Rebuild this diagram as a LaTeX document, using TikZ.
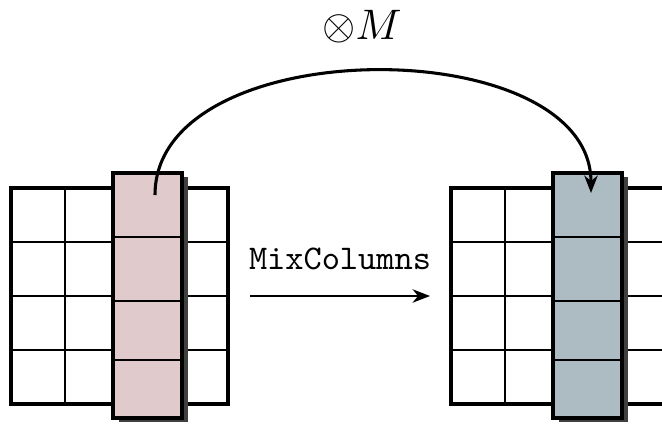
\documentclass[tikz,border=0pt]{standalone}
\usetikzlibrary{arrows.meta}
\definecolor{colpink}{RGB}{224,202,203}
\definecolor{colblue}{RGB}{173,187,195}
\definecolor{shadowgray}{RGB}{64,64,64}
\begin{document}
\begin{tikzpicture}[x=0.75pt,y=-0.75pt,
  gridouter/.style={line width=3.3pt},
  gridinner/.style={line width=1.5pt},
  colbox/.style={line width=2.4pt},
  colsep/.style={line width=1.6pt},
  dropshadow/.style={fill=shadowgray,draw=none},
  conn/.style={line width=2.3pt,-{Stealth[length=13pt,width=10pt,inset=4pt]}},
  lbl/.style={inner sep=0pt,anchor=base}]
\useasboundingbox (0,0) rectangle (662,426);
\clip (0,0) rectangle (662,426);
\foreach \ox/\fc in {0/colpink,440/colblue}{
  \begin{scope}[xshift=\ox*0.75pt]
    % grid
    \foreach \x in {65.25,119.5,173.75}
      \draw[gridinner] (\x,188) -- (\x,404);
    \foreach \y in {242,296,350}
      \draw[gridinner] (11,\y) -- (228,\y);
    \draw[gridouter] (11,188) rectangle (228,404);
    % highlighted column
    \fill[dropshadow] (119,177) rectangle (188,422);
    \filldraw[colbox,fill=\fc] (113,173) rectangle (182,418);
    \foreach \y in {237,301,360}
      \draw[colsep] (113,\y) -- (182,\y);
  \end{scope}
}
\coordinate (src) at (155,195);
\coordinate (dst) at (591,193);
\draw[conn] (src) .. controls (155,30) and (591,30) .. (dst);
\coordinate (mcA) at (250,296);
\coordinate (mcB) at (430,296);
\draw[conn,line width=1.8pt] (mcA) -- (mcB);
\node[lbl,scale=2.6,font=\ttfamily] (mclabel) at (340,269) {MixColumns};
\node[lbl,scale=3.2] (mlabel) at (362,39) {$\otimes M$};
\end{tikzpicture}
\end{document}
